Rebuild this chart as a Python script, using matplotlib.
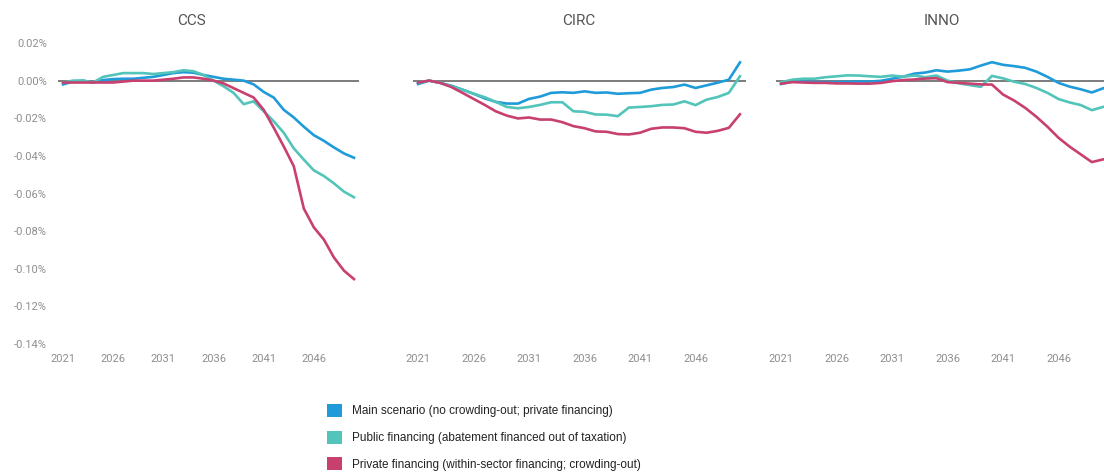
import numpy as np
import matplotlib
matplotlib.use('Agg')
from matplotlib import pyplot as plt
from matplotlib.patches import Patch

years = list(range(2021, 2051))
panels = ['CCS', 'CIRC', 'INNO']
series_labels = ['Main scenario (no crowding-out; private financing)',
                 'Public financing (abatement financed out of taxation)',
                 'Private financing (within-sector financing; crowding-out)']
colors = ['#1f9bd9', '#52c4b9', '#c8406f']

# values in %
ccs_main = [-0.002, -0.0005, 0.0, -0.001, 0.0003, 0.0008, 0.001, 0.001, 0.0015, 0.002,
            0.003, 0.004, 0.0045, 0.0042, 0.003, 0.002, 0.001, 0.0005, 0.0, -0.002,
            -0.006, -0.009, -0.0155, -0.0196, -0.0245, -0.029, -0.032, -0.0355, -0.0387, -0.041]
ccs_public = [-0.001, 0.0, 0.0, -0.001, 0.002, 0.003, 0.004, 0.004, 0.004, 0.0035,
              0.004, 0.0045, 0.0055, 0.005, 0.003, 0.0, -0.003, -0.0065, -0.0125, -0.011,
              -0.0163, -0.0216, -0.0277, -0.036, -0.042, -0.0477, -0.0507, -0.0546, -0.059, -0.062]
ccs_private = [-0.001, -0.001, -0.001, -0.001, -0.001, -0.001, -0.0005, 0.0, 0.0, 0.0,
               0.0005, 0.001, 0.0017, 0.0017, 0.001, 0.0, -0.0015, -0.004, -0.0065, -0.009,
               -0.0155, -0.025, -0.035, -0.0455, -0.068, -0.078, -0.0845, -0.094, -0.101, -0.1055]

circ_main = [-0.0018, 0.0, -0.0012, -0.0027, -0.0048, -0.007, -0.0094, -0.0113, -0.0122, -0.0122,
             -0.0097, -0.0085, -0.0065, -0.0062, -0.0065, -0.0057, -0.0065, -0.0063, -0.007, -0.0067,
             -0.0065, -0.0048, -0.0039, -0.0034, -0.0021, -0.0039, -0.0025, -0.0011, 0.0005, 0.0097]
circ_public = [-0.001, 0.0, -0.0012, -0.003, -0.0048, -0.0069, -0.0088, -0.0113, -0.014, -0.0147,
               -0.014, -0.0129, -0.0115, -0.0115, -0.0163, -0.0166, -0.018, -0.0181, -0.0189, -0.0143,
               -0.014, -0.0136, -0.0129, -0.0127, -0.011, -0.013, -0.0101, -0.0087, -0.0065, 0.0023]
circ_private = [-0.001, 0.0, -0.0012, -0.0034, -0.0065, -0.0097, -0.0129, -0.0163, -0.0186, -0.0201,
                -0.0196, -0.0207, -0.0207, -0.0221, -0.0242, -0.0253, -0.027, -0.0272, -0.0284, -0.0286,
                -0.0277, -0.0256, -0.0249, -0.0249, -0.0253, -0.0272, -0.0277, -0.0267, -0.0251, -0.0179]

inno_main = [-0.0018, -0.0005, -0.0005, -0.0007, -0.0008, -0.0008, -0.0006, -0.0005, -0.0005, -0.0001,
             0.001, 0.0021, 0.0037, 0.0043, 0.0055, 0.0048, 0.0053, 0.006, 0.008, 0.0098,
             0.0084, 0.0077, 0.0068, 0.0048, 0.002, -0.0012, -0.0032, -0.0046, -0.0063, -0.0041]
inno_public = [-0.0009, 0.0005, 0.001, 0.001, 0.0018, 0.0023, 0.0028, 0.0027, 0.0023, 0.002,
               0.0027, 0.0021, 0.0027, 0.0018, 0.0027, 0.0, -0.0014, -0.0024, -0.0033, 0.0025,
               0.0012, -0.0006, -0.0018, -0.0039, -0.0065, -0.0098, -0.0116, -0.013, -0.0157, -0.014]
inno_private = [-0.0016, -0.0008, -0.001, -0.0012, -0.0012, -0.0015, -0.0015, -0.0016, -0.0016, -0.0012,
                -0.0003, 0.0003, 0.0006, 0.0011, 0.0013, -0.0008, -0.0012, -0.0016, -0.002, -0.0021,
                -0.0074, -0.0106, -0.0145, -0.0192, -0.0245, -0.0304, -0.0351, -0.0392, -0.0433, -0.0419]

data = {'CCS': [ccs_main, ccs_public, ccs_private],
        'CIRC': [circ_main, circ_public, circ_private],
        'INNO': [inno_main, inno_public, inno_private]}

xticks = [2021, 2026, 2031, 2036, 2041, 2046]
yticks = [0.02, 0.0, -0.02, -0.04, -0.06, -0.08, -0.10, -0.12, -0.14]

plt.rcParams['font.family'] = ['Roboto', 'DejaVu Sans']

fig = plt.figure(figsize=(11.04, 4.75), dpi=100)
W, H = 1104.0, 475.0
bottom, top = 1 - 344 / H, 1 - 43 / H
# left/right edges in pixels
boxes = [(58, 359), (412.5, 745.5), (775.5, 1108.5)]

for i, name in enumerate(panels):
    l, r = boxes[i]
    ax = fig.add_axes([l / W, bottom, (r - l) / W, top - bottom])
    for vals, c in zip(data[name], colors):
        ax.plot(years, vals, color=c, lw=1.9, solid_joinstyle='round', zorder=3)
    ax.axhline(0, color='#666666', lw=1.2, zorder=2)
    ax.set_xlim(2020.5, 2050.5)
    ax.set_ylim(-0.14, 0.02)
    ax.set_xticks(xticks)
    ax.set_xticklabels([str(x) for x in xticks])
    ax.set_yticks(yticks)
    if i == 0:
        ax.set_yticklabels(['%.2f%%' % y if y != 0 else '0.00%' for y in yticks])
        ax.set_title(name, fontsize=11, color='#555555', pad=13, x=0.445)
    else:
        ax.set_yticklabels([])
        ax.set_title(name, fontsize=11, color='#555555', pad=13)
    ax.tick_params(axis='both', length=0, labelsize=8, colors='#8e8e8e')
    ax.tick_params(axis='y', pad=8)
    ax.tick_params(axis='x', pad=7)
    for s in ax.spines.values():
        s.set_visible(False)

handles = [Patch(facecolor=c, edgecolor='none') for c in colors]
fig.legend(handles, series_labels, loc='upper left', bbox_to_anchor=(327 / W, 1 - 404 / H),
           frameon=False, borderpad=0, borderaxespad=0,
           prop={'family': 'Liberation Sans', 'size': 8.5},
           handlelength=1.3, handleheight=1.3, handletextpad=0.85, labelspacing=1.13,
           labelcolor='#222222')

plt.savefig('out.png', dpi=100)
